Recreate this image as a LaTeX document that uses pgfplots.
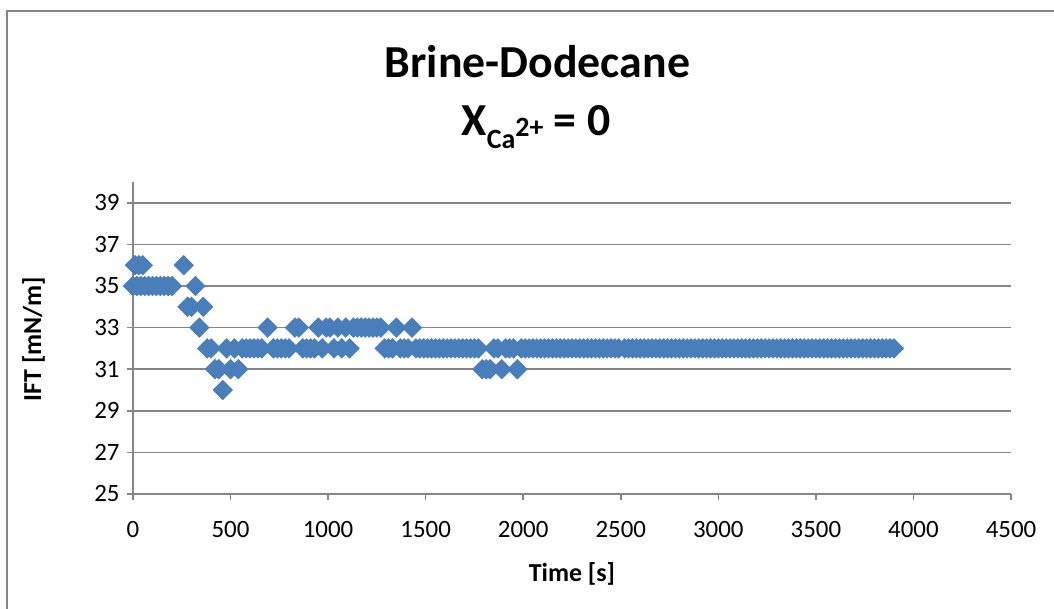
\documentclass[border=0pt]{standalone}
\usepackage{fontspec}
\setmainfont{Carlito}
\usepackage{pgfplots}
\usepackage{pgfplotstable}
\pgfplotsset{compat=1.18}
\definecolor{gridgray}{RGB}{134,134,134}
\definecolor{excelblue}{RGB}{74,126,187}

\pgfplotstableread{
t ift
0 35
10 36
20 35
30 36
40 35
50 36
60 35
80 35
100 35
120 35
140 35
160 35
180 35
200 35
260 36
280 34
300 34
320 35
340 33
360 34
380 32
400 32
420 31
440 31
460 30
480 32
500 31
520 32
540 31
560 32
580 32
600 32
620 32
640 32
660 32
690 33
720 32
740 32
760 32
780 32
800 32
830 33
850 33
870 32
890 32
910 32
930 32
950 33
970 32
990 33
1010 33
1030 32
1050 33
1070 32
1090 33
1110 32
1130 33
1150 33
1170 33
1190 33
1210 33
1230 33
1250 33
1270 33
1290 32
1310 32
1330 32
1350 33
1370 32
1390 32
1410 32
1430 33
1450 32
1470 32
1490 32
1510 32
1530 32
1550 32
1570 32
1590 32
1610 32
1630 32
1650 32
1670 32
1690 32
1710 32
1730 32
1750 32
1770 32
1790 31
1810 31
1830 31
1850 32
1870 32
1890 31
1910 32
1930 32
1950 32
1970 31
1990 32
2010 32
2030 32
2050 32
2070 32
2090 32
2110 32
2130 32
2150 32
2170 32
2190 32
2210 32
2230 32
2250 32
2270 32
2290 32
2310 32
2330 32
2350 32
2370 32
2390 32
2410 32
2430 32
2450 32
2470 32
2490 32
2520 32
2540 32
2560 32
2580 32
2600 32
2620 32
2640 32
2660 32
2680 32
2700 32
2720 32
2740 32
2760 32
2780 32
2800 32
2820 32
2840 32
2860 32
2880 32
2900 32
2920 32
2940 32
2960 32
2980 32
3000 32
3020 32
3040 32
3060 32
3080 32
3100 32
3120 32
3140 32
3160 32
3180 32
3200 32
3220 32
3240 32
3260 32
3280 32
3300 32
3320 32
3340 32
3360 32
3380 32
3400 32
3420 32
3440 32
3460 32
3480 32
3500 32
3520 32
3540 32
3560 32
3580 32
3600 32
3620 32
3640 32
3660 32
3680 32
3700 32
3720 32
3740 32
3760 32
3780 32
3800 32
3820 32
3840 32
3860 32
3880 32
3900 32
}\ifttable

\begin{document}
\begin{tikzpicture}
\useasboundingbox (0,0) rectangle (527bp,304.5bp);
\fill[white] (0,0) rectangle (527bp,304.5bp);
\draw[gridgray, line width=1bp] (3.5bp,-5bp) -- (3.5bp,299bp) -- (535bp,299bp);
\begin{axis}[
  at={(66.5bp,57.5bp)}, anchor=south west,
  scale only axis, width=439bp, height=156bp,
  xmin=0, xmax=4500, ymin=25, ymax=40,
  xtick={0,500,...,4500}, ytick={25,27,...,39},
  axis lines=left,
  axis line style={-, draw=gridgray, line width=0.75bp},
  ymajorgrids, grid style={gridgray, line width=0.75bp},
  tick align=outside, major tick length=3bp,
  tick style={gridgray, line width=0.75bp},
  ticklabel style={font=\fontsize{12.5}{14}\selectfont, inner sep=0pt},
  xticklabel style={anchor=north, yshift=-10.5bp},
  yticklabel style={anchor=east, xshift=-3.5bp},
  /pgf/number format/assume math mode=true,
  /pgf/number format/1000 sep={},
  clip=false,
]
\addplot[only marks, mark=square*, mark size=3.45bp,
  mark options={rotate=45, fill=excelblue, draw=excelblue, line width=0.3bp}]
  table[x=t, y=ift] {\ifttable};
\end{axis}
\node[anchor=base, font=\fontsize{23}{27}\selectfont\bfseries] at (268.75bp,265.6bp) {Brine-Dodecane};
\node[anchor=base, font=\fontsize{23}{27}\selectfont\bfseries] at (268bp,236.5bp)
  {X\raisebox{-6.5bp}{\fontsize{14}{16}\selectfont Ca}\raisebox{-0.5bp}{\fontsize{14}{16}\selectfont 2+} = 0};
\node[anchor=base, font=\fontsize{13}{15}\selectfont\bfseries] at (286bp,14bp) {Time [s]};
\node[anchor=base, rotate=90, font=\fontsize{13}{15}\selectfont\bfseries] at (20.5bp,135bp) {IFT [mN/m]};
\end{tikzpicture}
\end{document}
